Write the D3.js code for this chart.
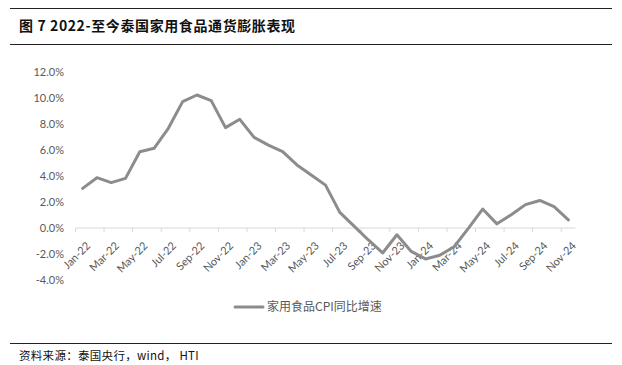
<!DOCTYPE html>
<html>
<head>
<meta charset="utf-8">
<script src="https://cdn.jsdelivr.net/npm/d3@7"></script>
<style>
  body { margin: 0; background: #fff; }
  svg { display: block; }
</style>
</head>
<body>
<svg id="chart"></svg>
<script>
const months = ["Jan-22","Feb-22","Mar-22","Apr-22","May-22","Jun-22","Jul-22","Aug-22","Sep-22","Oct-22","Nov-22","Dec-22",
  "Jan-23","Feb-23","Mar-23","Apr-23","May-23","Jun-23","Jul-23","Aug-23","Sep-23","Oct-23","Nov-23","Dec-23",
  "Jan-24","Feb-24","Mar-24","Apr-24","May-24","Jun-24","Jul-24","Aug-24","Sep-24","Oct-24","Nov-24"];
const foodCpi = [3.05, 3.87, 3.49, 3.82, 5.87, 6.13, 7.67, 9.72, 10.23, 9.8, 7.72, 8.36,
  6.97, 6.38, 5.87, 4.85, 4.08, 3.3, 1.2, 0.15, -0.92, -1.92, -0.52, -1.8,
  -2.38, -2.1, -1.44, -0.03, 1.46, 0.32, 1.02, 1.8, 2.12, 1.64, 0.62];
const yTicks = [-4, -2, 0, 2, 4, 6, 8, 10, 12];

const title = "图 7 2022-至今泰国家用食品通货膨胀表现";
const legendLabel = "家用食品CPI同比增速";
const source = "资料来源：泰国央行，wind， HTI";

const width = 622, height = 365;
const svg = d3.select("#chart")
    .attr("width", width)
    .attr("height", height);

const cjk = "'Noto Sans CJK SC', sans-serif";
const latin = "Lato, 'Open Sans', sans-serif";

// header / footer rules
svg.append("line").attr("x1", 10).attr("x2", 612).attr("y1", 8.5).attr("y2", 8.5)
    .attr("stroke", "#222").attr("stroke-width", 1);
svg.append("line").attr("x1", 10).attr("x2", 612).attr("y1", 44.5).attr("y2", 44.5)
    .attr("stroke", "#222").attr("stroke-width", 1);
svg.append("line").attr("x1", 10).attr("x2", 612).attr("y1", 343.5).attr("y2", 343.5)
    .attr("stroke", "#222").attr("stroke-width", 1);

svg.append("text")
    .attr("x", 19).attr("y", 31)
    .attr("font-family", cjk)
    .attr("font-size", 14)
    .attr("font-weight", "bold")
    .attr("letter-spacing", 0.6)
    .attr("fill", "#111")
    .text(title);

svg.append("text")
    .attr("x", 19).attr("y", 360)
    .attr("font-family", cjk)
    .attr("font-size", 11.5)
    .attr("letter-spacing", 0.3)
    .attr("fill", "#111")
    .text(source);

// scales
const x = d3.scaleBand()
    .domain(months)
    .range([75.5, 575.5]);

const y = d3.scaleLinear()
    .domain([-4, 12])
    .range([280, 72]);

// y labels (no axis line)
svg.append("g")
    .selectAll("text")
    .data(yTicks)
    .enter()
    .append("text")
    .attr("x", 64)
    .attr("y", d => y(d))
    .attr("dy", "0.35em")
    .attr("text-anchor", "end")
    .attr("font-family", latin)
    .attr("font-size", 11)
    .attr("fill", "#595959")
    .text(d => d.toFixed(1) + "%");

// x axis at zero
const axisY = y(0);
svg.append("line")
    .attr("x1", x.range()[0]).attr("x2", x.range()[1])
    .attr("y1", axisY).attr("y2", axisY)
    .attr("stroke", "#d9d9d9").attr("stroke-width", 1);

const tickIdx = d3.range(0, months.length, 2);
svg.append("g")
    .selectAll("line")
    .data(tickIdx)
    .enter()
    .append("line")
    .attr("x1", i => x(months[i]))
    .attr("x2", i => x(months[i]))
    .attr("y1", axisY)
    .attr("y2", axisY + 4)
    .attr("stroke", "#d9d9d9").attr("stroke-width", 1);

svg.append("g")
    .selectAll("text")
    .data(tickIdx)
    .enter()
    .append("text")
    .attr("transform", i => `translate(${x(months[i]) + x.bandwidth() / 2 + 3}, ${axisY + 13}) rotate(-45)`)
    .attr("text-anchor", "end")
    .attr("dy", "0.7em")
    .attr("font-family", latin)
    .attr("font-size", 11)
    .attr("fill", "#595959")
    .text(i => months[i]);

// line
const line = d3.line()
    .x((d, i) => x(months[i]) + x.bandwidth() / 2)
    .y(d => y(d));

svg.append("path")
    .datum(foodCpi)
    .attr("d", line)
    .attr("fill", "none")
    .attr("stroke", "#8c8c8c")
    .attr("stroke-width", 3)
    .attr("stroke-linejoin", "round")
    .attr("stroke-linecap", "round");

// legend
svg.append("line")
    .attr("x1", 235).attr("x2", 263)
    .attr("y1", 307).attr("y2", 307)
    .attr("stroke", "#8c8c8c")
    .attr("stroke-width", 3)
    .attr("stroke-linecap", "round");

svg.append("text")
    .attr("x", 267).attr("y", 307)
    .attr("dy", "0.35em")
    .attr("font-family", cjk)
    .attr("font-size", 12)
    .attr("fill", "#595959")
    .text(legendLabel);
</script>
</body>
</html>
